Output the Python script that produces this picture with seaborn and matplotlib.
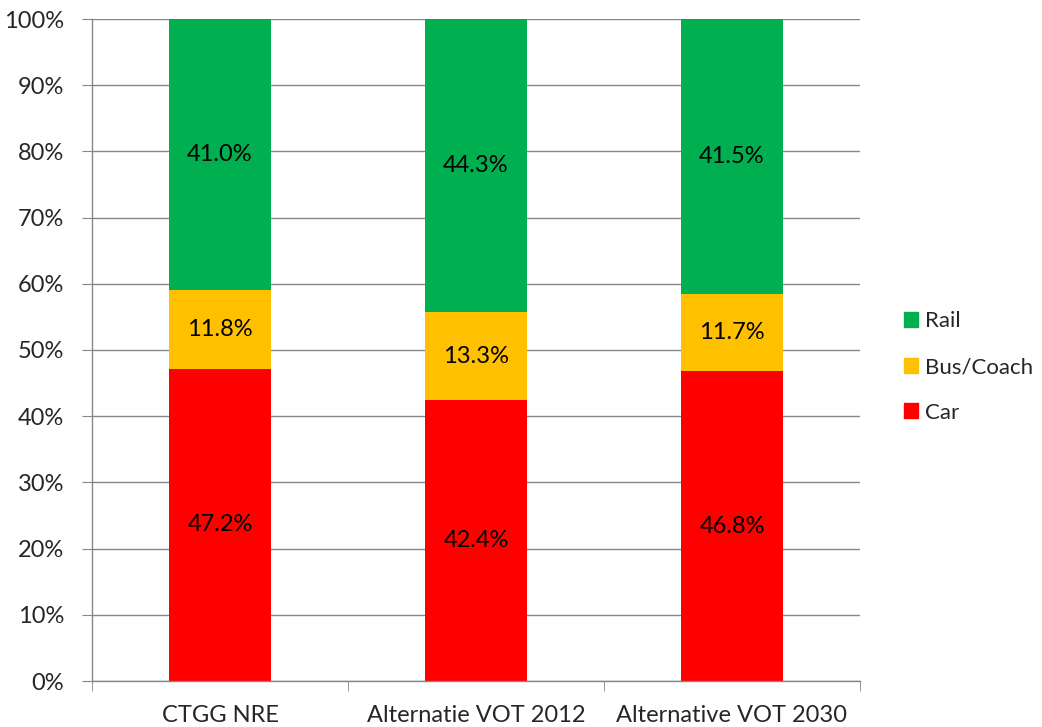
import matplotlib
matplotlib.use("Agg")
import matplotlib.pyplot as plt
from matplotlib.patches import Patch
import seaborn as sns
import numpy as np

scenarios = ["CTGG NRE", "Alternatie VOT 2012", "Alternative VOT 2030"]
car = [47.2, 42.4, 46.8]
bus = [11.8, 13.3, 11.7]
rail = [41.0, 44.3, 41.5]

modes = ["Car", "Bus/Coach", "Rail"]
colors = {"Car": "#FF0000", "Bus/Coach": "#FFC000", "Rail": "#00B050"}

sns.set_style("white")
plt.rcParams["font.family"] = ["Lato", "DejaVu Sans"]

fig = plt.figure(figsize=(10.42, 7.27), dpi=100)
ax = fig.add_axes([92 / 1042, 46 / 727, 768 / 1042, 662 / 727])

grey = "#868686"
ax.set_axisbelow(True)
ax.yaxis.grid(True, color=grey, linewidth=1)

fs = 17
bottom = np.zeros(3)
for mode, vals in zip(modes, [car, bus, rail]):
    vals = np.array(vals)
    sns.barplot(x=scenarios, y=vals, bottom=bottom, color=colors[mode],
                width=0.4, ax=ax, saturation=1, linewidth=0)
    for i, v in enumerate(vals):
        ax.text(i, bottom[i] + v / 2, f"{v:.1f}%", ha="center", va="center",
                fontsize=fs, color="black")
    bottom += vals

ax.set_xlim(-0.5, 2.5)
ax.set_ylim(0, 100)
ax.set_yticks(np.arange(0, 101, 10))
ax.set_yticklabels([f"{t}%" for t in range(0, 101, 10)], fontsize=fs)
ax.tick_params(axis="y", length=7, color=grey, direction="out", left=True, pad=13)
ax.tick_params(axis="x", which="major", length=0, labelsize=fs, pad=17)
ax.set_xticks([-0.5, 0.5, 1.5, 2.5], minor=True)
ax.tick_params(axis="x", which="minor", length=7, color=grey, bottom=True)

for s in ["top", "right"]:
    ax.spines[s].set_visible(False)
for s in ["left", "bottom"]:
    ax.spines[s].set_color(grey)
    ax.spines[s].set_linewidth(1)

handles = [Patch(color=colors[m]) for m in ["Rail", "Bus/Coach", "Car"]]
fig.legend(handles, ["Rail", "Bus/Coach", "Car"], loc="center left",
           bbox_to_anchor=(884 / 1042, 1 - 367 / 727), frameon=False,
           fontsize=16, handlelength=0.65, handleheight=0.65,
           handletextpad=0.3, labelspacing=1.15)

fig.savefig("out.png", dpi=100)
